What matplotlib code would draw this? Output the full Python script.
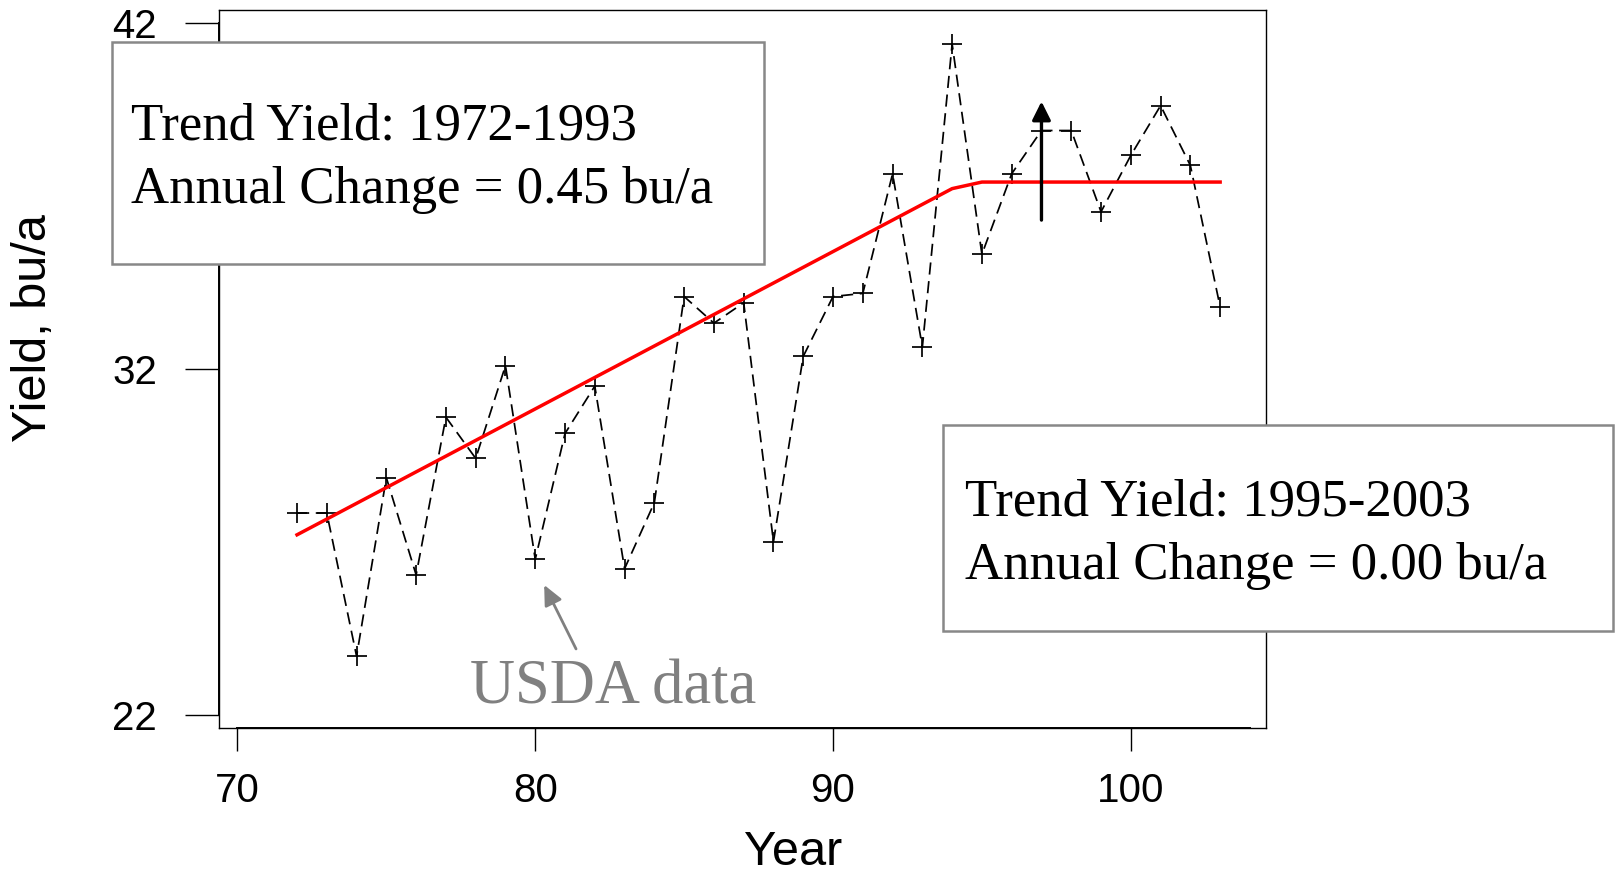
import matplotlib
matplotlib.use("Agg")
import matplotlib.pyplot as plt
from matplotlib.patches import Rectangle

# ---- data ----
years = list(range(72, 104))
yields = [27.84, 27.84, 23.70, 28.86, 26.05, 30.61, 29.42, 32.10, 26.50, 30.14,
          31.51, 26.23, 28.14, 34.10, 33.33, 33.92, 27.01, 32.37, 34.10, 34.19,
          37.65, 32.64, 41.40, 35.32, 37.65, 38.90, 38.90, 36.55, 38.18, 39.62,
          37.89, 33.80]
trend_years = [72, 94, 95, 103]
trend_values = [27.21, 37.22, 37.41, 37.41]
x_ticks = [70, 80, 90, 100]
y_ticks = [22, 32, 42]
box1_lines = ["Trend Yield: 1972-1993", "Annual Change = 0.45 bu/a"]
box2_lines = ["Trend Yield: 1995-2003", "Annual Change = 0.00 bu/a"]
arrow_year = 97
arrow_from, arrow_to = 36.31, 39.74
usda_label = "USDA data"
usda_tail = (81.37, 23.91)
usda_tip = (80.30, 25.76)

W, H = 1619, 872
def fx(px):
    return px / W
def fy(py):
    return 1 - py / H

SANS = "Liberation Sans"
SERIF = "Liberation Serif"

fig = plt.figure(figsize=(W / 100, H / 100), dpi=100, facecolor="white")
ax_l, ax_r, ax_t, ax_b = 219.3, 1265.7, 10.0, 728.3
ax = fig.add_axes([fx(ax_l), fy(ax_b), (ax_r - ax_l) / W, (ax_b - ax_t) / H])

ax.plot(years, yields, color="black", lw=1.25, linestyle=(0, (7, 3.8)),
        marker="+", markersize=14, markeredgewidth=1.25, zorder=3)
ax.plot(trend_years, trend_values, color="#ff0000", lw=2.5, zorder=4,
        solid_joinstyle="round")

ax.annotate("", xy=(arrow_year, arrow_to), xytext=(arrow_year, arrow_from),
            arrowprops=dict(arrowstyle="-|>,head_length=0.56,head_width=0.28",
                            mutation_scale=20, lw=2.4, color="black",
                            shrinkA=0, shrinkB=0), zorder=5)

ax.annotate("", xy=usda_tip, xytext=usda_tail,
            arrowprops=dict(arrowstyle="-|>,head_length=0.6,head_width=0.28",
                            mutation_scale=20, lw=2.0, color="#808080",
                            shrinkA=0, shrinkB=0), zorder=5)

ax.set_xlim(69.39, 104.53)
ax.set_ylim(21.615, 42.385)
ax.set_xticks(x_ticks)
ax.set_yticks(y_ticks)
ax.set_xticklabels([str(v) for v in x_ticks], fontsize=29, family=SANS)
ax.set_yticklabels([str(v) for v in y_ticks], fontsize=29, family=SANS)
ax.tick_params(axis="y", direction="out", length=24.7, width=1.0, pad=20)
ax.tick_params(axis="x", direction="out", length=16.3, width=1.0, pad=15.5)
for s in ax.spines.values():
    s.set_linewidth(1.0)
    s.set_color("black")

# axis lines (slightly heavier than the box)
ax.plot([70, 104], [21.615, 21.615], color="black", lw=1.4, clip_on=False, zorder=2.6)
ax.plot([69.39, 69.39], [22, 42], color="black", lw=1.4, clip_on=False, zorder=2.6)

ax.set_xlabel("Year", fontsize=35, family=SANS)
ax.xaxis.label.set_verticalalignment("baseline")
ax.xaxis.set_label_coords((793 - ax_l) / (ax_r - ax_l), (ax_b - 865) / (ax_b - ax_t))
ax.set_ylabel("Yield, bu/a", fontsize=35, family=SANS)
ax.yaxis.label.set_verticalalignment("center")
ax.yaxis.set_label_coords((33.6 - ax_l) / (ax_r - ax_l), (ax_b - 327.8) / (ax_b - ax_t))

# USDA label
fig.text(fx(470), fy(703.3), usda_label, fontsize=45, family=SERIF,
         color="#808080", ha="left", va="baseline")

# text boxes
def add_box(x0, y0, x1, y1, lines, tx, baselines):
    fig.add_artist(Rectangle((fx(x0), fy(y1)), (x1 - x0) / W, (y1 - y0) / H,
                             transform=fig.transFigure, facecolor="white",
                             edgecolor="#888888", lw=1.8, zorder=5))
    for line, b in zip(lines, baselines):
        fig.text(fx(tx), fy(b), line, fontsize=38, family=SERIF, color="black",
                 ha="left", va="baseline", zorder=6)

add_box(112.3, 41.7, 764, 264, box1_lines, 131, [140, 203.3])
add_box(943.3, 425, 1613.2, 630.7, box2_lines, 965, [515, 579.3])

fig.savefig("out.png", dpi=100, facecolor="white")
